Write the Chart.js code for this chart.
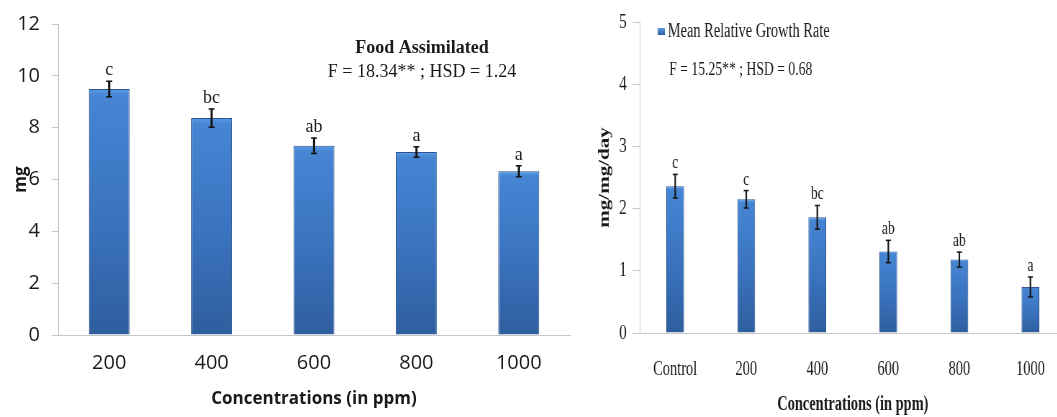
<!DOCTYPE html>
<html>
<head>
<meta charset="utf-8">
<script src="https://cdn.jsdelivr.net/npm/chart.js@4.4.1/dist/chart.umd.min.js"></script>
<style>
html, body { margin: 0; padding: 0; background: #fff; }
body { width: 1057px; height: 417px; overflow: hidden; position: relative; }
#left { position: absolute; left: 0; top: 0; }
/* the right panel of the original is squeezed horizontally */
#rightWrap { position: absolute; left: 590px; top: 0; width: 670px; height: 417px; transform: scaleX(0.72); transform-origin: 0 0; }
</style>
</head>
<body>
<canvas id="left" width="580" height="417"></canvas>
<div id="rightWrap"><canvas id="right" width="670" height="417"></canvas></div>
<script>
// Left panel: food assimilated
const foodConc = ['200', '400', '600', '800', '1000'];
const foodValues = [9.49, 8.37, 7.30, 7.06, 6.32];
const foodErrors = [0.30, 0.35, 0.30, 0.20, 0.21];
const foodLetters = ['c', 'bc', 'ab', 'a', 'a'];
const foodTicks = [0, 2, 4, 6, 8, 10, 12];

// Right panel: mean relative growth rate
const growthConc = ['Control', '200', '400', '600', '800', '1000'];
const growthValues = [2.36, 2.15, 1.86, 1.31, 1.18, 0.74];
const growthErrors = [0.19, 0.14, 0.19, 0.18, 0.12, 0.16];
const growthLetters = ['c', 'c', 'bc', 'ab', 'ab', 'a'];
const growthTicks = [0, 1, 2, 3, 4, 5];

const INK = '#1a1a1a';
const AXIS = '#c6c6c6';
const SANS = "'Open Sans', sans-serif";
const SERIF = "'Liberation Serif', 'Times New Roman', serif";

// vertical gradient for each bar, light at the top, darker at the base
function barFill(ctx) {
  const flat = '#3f7bc9';
  if (ctx.type !== 'data') return flat;
  const chart = ctx.chart;
  const y = chart.scales.y;
  if (!y) return flat;
  const top = y.getPixelForValue(ctx.raw);
  const base = y.getPixelForValue(0);
  if (!isFinite(top) || !isFinite(base) || base - top < 2) return flat;
  const g = chart.ctx.createLinearGradient(0, top, 0, base);
  g.addColorStop(0, '#5a9ae2');
  g.addColorStop(0.03, '#4685d3');
  g.addColorStop(0.5, '#3b74c0');
  g.addColorStop(1, '#2e5e9e');
  return g;
}

function buildDatasets(label, values, errors, barPct, capRadius) {
  return [
    {
      type: 'line', label: 'upper', data: values.map((v, i) => v + errors[i]),
      showLine: false, pointStyle: 'line', pointRadius: capRadius, pointHoverRadius: capRadius,
      pointBorderWidth: 1.5, pointBorderColor: '#151515', order: 1
    },
    {
      type: 'line', label: 'lower', data: values.map((v, i) => v - errors[i]),
      showLine: false, pointStyle: 'line', pointRadius: capRadius, pointHoverRadius: capRadius,
      pointBorderWidth: 1.5, pointBorderColor: '#151515', order: 1
    },
    {
      type: 'bar', label: 'stem', data: values.map((v, i) => [v - errors[i], v + errors[i]]),
      backgroundColor: '#151515', barThickness: 1.5, grouped: false, borderWidth: 0, order: 2
    },
    {
      type: 'bar', label: label, data: values,
      backgroundColor: barFill, borderColor: '#2a5592', borderWidth: 1,
      barPercentage: barPct, categoryPercentage: 1, grouped: false, order: 3
    }
  ];
}

// significance letters above the error bars
const letterPlugin = {
  id: 'letters',
  afterDatasetsDraw(chart, args, opts) {
    const { ctx, scales: { x, y } } = chart;
    ctx.save();
    ctx.font = opts.font;
    ctx.fillStyle = INK;
    ctx.textAlign = 'center';
    ctx.textBaseline = 'alphabetic';
    opts.letters.forEach((t, i) => {
      const py = y.getPixelForValue(opts.values[i] + opts.errors[i]);
      ctx.fillText(t, x.getPixelForValue(i), py - opts.gap);
    });
    ctx.restore();
  }
};

// free text (panel titles, statistics) and the small legend key
const notesPlugin = {
  id: 'notes',
  afterDraw(chart, args, opts) {
    const ctx = chart.ctx;
    ctx.save();
    if (opts.key) {
      const k = opts.key;
      const g = ctx.createLinearGradient(0, k.y, 0, k.y + k.h);
      g.addColorStop(0, '#5a9ae2');
      g.addColorStop(1, '#2e5e9e');
      ctx.fillStyle = g;
      ctx.fillRect(k.x, k.y, k.w, k.h);
    }
    ctx.fillStyle = INK;
    ctx.textBaseline = 'middle';
    opts.items.forEach(it => {
      ctx.font = it.font;
      ctx.textAlign = it.align;
      ctx.fillText(it.text, it.x, it.y);
    });
    ctx.restore();
  }
};

new Chart(document.getElementById('left'), {
  type: 'bar',
  data: { labels: foodConc, datasets: buildDatasets('Food Assimilated', foodValues, foodErrors, 0.4, 3) },
  options: {
    responsive: false,
    animation: false,
    layout: { padding: { left: 0, top: 21, right: 10, bottom: 0 } },
    scales: {
      x: {
        afterFit: s => { s.height = 82; },
        grid: { display: false, drawTicks: false },
        border: { display: true, color: AXIS },
        ticks: { font: { family: SANS, size: 20 }, color: INK, padding: 16 },
        title: {
          display: true, text: 'Concentrations (in ppm)', color: INK,
          font: { family: SANS, size: 17, weight: 'bold' }, padding: { top: 0, bottom: 8 }
        }
      },
      y: {
        min: 0, max: 12,
        afterBuildTicks: s => { s.ticks = foodTicks.map(v => ({ value: v })); },
        afterFit: s => { s.width = 58; },
        grid: { display: true, drawOnChartArea: false, drawTicks: true, tickLength: 6, color: AXIS },
        border: { display: true, color: AXIS },
        ticks: { font: { family: SANS, size: 20 }, color: INK, padding: 12 },
        title: {
          display: true, text: 'mg', color: INK,
          font: { family: SANS, size: 17, weight: 'bold' }, padding: { top: 11, bottom: 0 }
        }
      }
    },
    plugins: {
      legend: { display: false },
      tooltip: { enabled: false },
      letters: { letters: foodLetters, values: foodValues, errors: foodErrors, gap: 6, font: '18px ' + SERIF },
      notes: {
        items: [
          { text: 'Food Assimilated', x: 422, y: 48, align: 'center', font: 'bold 18px ' + SERIF },
          { text: 'F = 18.34** ; HSD = 1.24', x: 422, y: 72, align: 'center', font: '18px ' + SERIF }
        ]
      }
    }
  },
  plugins: [letterPlugin, notesPlugin]
});

new Chart(document.getElementById('right'), {
  type: 'bar',
  data: { labels: growthConc, datasets: buildDatasets('Mean Relative Growth Rate', growthValues, growthErrors, 0.25, 3.5) },
  options: {
    responsive: false,
    animation: false,
    layout: { padding: { left: 0, top: 22, right: 9, bottom: 0 } },
    scales: {
      x: {
        afterFit: s => { s.height = 84; },
        grid: { display: false, drawTicks: false },
        border: { display: true, color: AXIS },
        ticks: { font: { family: SERIF, size: 20 }, color: INK, padding: 25 },
        title: {
          display: true, text: 'Concentrations (in ppm)', color: INK,
          font: { family: SERIF, size: 20, weight: 'bold' }, padding: { top: 0, bottom: 0 }
        }
      },
      y: {
        min: 0, max: 5,
        afterBuildTicks: s => { s.ticks = growthTicks.map(v => ({ value: v })); },
        afterFit: s => { s.width = 69; },
        grid: { display: true, drawOnChartArea: false, drawTicks: true, tickLength: 10, color: AXIS },
        border: { display: true, color: AXIS },
        ticks: { font: { family: SERIF, size: 21 }, color: INK, padding: 8 },
        title: {
          display: true, text: 'mg/mg/day', color: INK,
          font: { family: SERIF, size: 21, weight: 'bold' }, padding: { top: 8, bottom: 0 }
        }
      }
    },
    plugins: {
      legend: { display: false },
      tooltip: { enabled: false },
      letters: { letters: growthLetters, values: growthValues, errors: growthErrors, gap: 6, font: '19px ' + SERIF },
      notes: {
        key: { x: 94, y: 28, w: 10, h: 7 },
        items: [
          { text: 'Mean Relative Growth Rate', x: 108, y: 32, align: 'left', font: '20px ' + SERIF },
          { text: 'F = 15.25** ; HSD = 0.68', x: 110, y: 70, align: 'left', font: '19px ' + SERIF }
        ]
      }
    }
  },
  plugins: [letterPlugin, notesPlugin]
});
</script>
</body>
</html>
